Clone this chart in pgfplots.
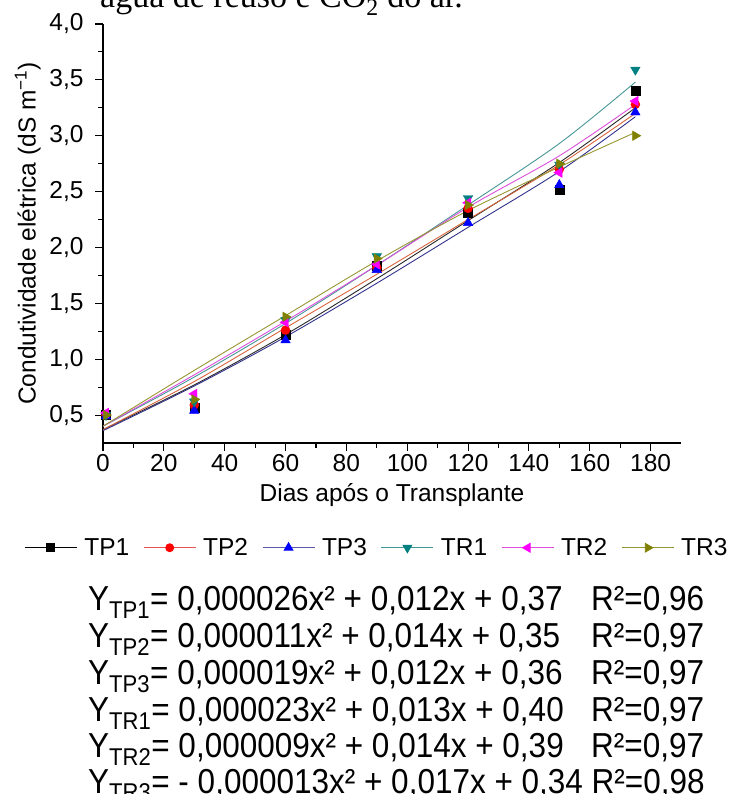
\documentclass[border=0pt]{standalone}
\usepackage{fontspec}
\setmainfont{Liberation Sans}
\newfontfamily\capfont{Liberation Serif}
\usepackage{pgfplots}
\pgfplotsset{compat=1.18}

% marker colours
\definecolor{cTPa}{RGB}{0,0,0}
\definecolor{cTPb}{RGB}{255,0,0}
\definecolor{cTPc}{RGB}{0,0,255}
\definecolor{cTRa}{RGB}{0,128,128}
\definecolor{cTRb}{RGB}{255,0,255}
\definecolor{cTRc}{RGB}{128,128,0}
% fitted-line colours (thin, a bit muted)
\definecolor{lTPa}{RGB}{40,40,40}
\definecolor{lTPb}{RGB}{215,100,60}
\definecolor{lTPc}{RGB}{50,50,140}
\definecolor{lTRa}{RGB}{70,150,150}
\definecolor{lTRb}{RGB}{220,80,220}
\definecolor{lTRc}{RGB}{150,150,50}

\newcommand{\eqtxt}[1]{\scalebox{1}[1.1]{#1}}

\begin{document}
\begin{tikzpicture}[x=1pt,y=1pt]
\useasboundingbox (0,0) rectangle (730,794);

% caption cut by the top edge
\node[anchor=base west, font=\capfont\fontsize{34}{38}\selectfont, inner sep=0pt]
  at (100,786) {água de reuso e CO\textsubscript{2} do ar.};

\begin{axis}[
  at={(103pt,351pt)}, anchor=south west,
  width=578pt, height=419pt, scale only axis,
  xmin=0, xmax=190, ymin=0.25, ymax=4.0,
  xtick={0,20,...,180}, ytick={0.5,1,1.5,2,2.5,3,3.5,4},
  minor x tick num=1, minor y tick num=1,
  axis lines=left, axis line style={-, line width=1.1pt},
  tick align=outside, major tick length=8pt, minor tick length=5pt,
  every tick/.style={black, line width=1.1pt},
  ticklabel style={font=\fontsize{24.5}{28}\selectfont},
  /pgf/number format/assume math mode=true,
  y tick label style={xshift=-8pt, /pgf/number format/.cd, fixed, fixed zerofill, precision=1, use comma},
  xlabel={Dias após o Transplante},
  ylabel={Condutividade elétrica (dS m\textsuperscript{−1})},
  label style={font=\fontsize{24.5}{28}\selectfont},
  x label style={at={(axis description cs:0.5,-0.125)}, anchor=center},
  y label style={at={(axis description cs:-0.13,0.5)}, anchor=center},
  legend columns=6,
  legend style={draw=none, fill=none, at={(axis description cs:0.474,-0.25)}, anchor=center,
    font=\fontsize{24.5}{28}\selectfont,
    /tikz/every odd column/.append style={column sep=5pt},
    /tikz/every even column/.append style={column sep=12pt}},
  legend cell align=left,
  legend image code/.code={\draw[mark repeat=2,mark phase=2,#1] plot coordinates {(0pt,0pt) (26pt,0pt) (52pt,0pt)};},
]

% fitted curves
\addplot[lTPa, line width=0.9pt, smooth, forget plot] coordinates {(0,0.37) (30,0.77) (60,1.22) (90,1.72) (120,2.24) (150,2.76) (175,3.25)};
\addplot[lTPb, line width=0.9pt, smooth, forget plot] coordinates {(0,0.37) (30,0.80) (60,1.28) (90,1.76) (120,2.25) (150,2.74) (175,3.20)};
\addplot[lTPc, line width=0.9pt, smooth, forget plot] coordinates {(0,0.36) (30,0.76) (60,1.20) (90,1.68) (120,2.18) (150,2.68) (175,3.17)};
\addplot[lTRa, line width=0.9pt, smooth, forget plot] coordinates {(0,0.40) (30,0.84) (60,1.32) (90,1.84) (120,2.38) (150,2.93) (175,3.48)};
\addplot[lTRb, line width=0.9pt, smooth, forget plot] coordinates {(0,0.40) (30,0.86) (60,1.34) (90,1.84) (120,2.36) (150,2.82) (175,3.28)};
\addplot[lTRc, line width=0.9pt, smooth, forget plot] coordinates {(0,0.40) (30,0.90) (60,1.39) (90,1.88) (120,2.33) (150,2.72) (175,3.03)};

% measured points
\addplot[only marks, mark=square*, mark size=4.5pt, cTPa, forget plot] coordinates {(1,0.50) (30,0.57) (60,1.22) (90,1.84) (120,2.31) (150,2.52) (175,3.40)};
\addplot[only marks, mark=*, mark size=4.5pt, cTPb, forget plot] coordinates {(1,0.50) (30,0.59) (60,1.26) (90,1.82) (120,2.35) (150,2.70) (175,3.28)};
\addplot[only marks, mark=triangle*, mark size=5.5pt, cTPc, forget plot] coordinates {(1,0.49) (30,0.54) (60,1.17) (90,1.80) (120,2.22) (150,2.56) (175,3.21)};
\addplot[only marks, mark=triangle*, mark size=5.5pt, mark options={rotate=180}, cTRa, forget plot] coordinates {(1,0.50) (30,0.62) (60,1.35) (90,1.92) (120,2.44) (150,2.74) (175,3.59)};
\addplot[only marks, mark=triangle*, mark size=5.5pt, mark options={rotate=90}, cTRb, forget plot] coordinates {(1,0.52) (30,0.69) (60,1.33) (90,1.85) (120,2.40) (150,2.67) (175,3.31)};
\addplot[only marks, mark=triangle*, mark size=5.5pt, mark options={rotate=-90}, cTRc, forget plot] coordinates {(1,0.50) (30,0.64) (60,1.38) (90,1.90) (120,2.38) (150,2.75) (175,3.00)};

% legend entries: line with marker
\addlegendimage{black, line width=0.9pt, mark=square*, mark size=4pt, mark options={fill=black}}
\addlegendentry{TP1}
\addlegendimage{color={rgb,255:red,230;green,80;blue,80}, line width=0.9pt, mark=*, mark size=4pt, mark options={fill=cTPb, draw=cTPb}}
\addlegendentry{TP2}
\addlegendimage{color={rgb,255:red,90;green,90;blue,170}, line width=0.9pt, mark=triangle*, mark size=5pt, mark options={fill=cTPc, draw=cTPc}}
\addlegendentry{TP3}
\addlegendimage{lTRa, line width=0.9pt, mark=triangle*, mark size=5pt, mark options={rotate=180, fill=cTRa, draw=cTRa}}
\addlegendentry{TR1}
\addlegendimage{lTRb, line width=0.9pt, mark=triangle*, mark size=5pt, mark options={rotate=90, fill=cTRb, draw=cTRb}}
\addlegendentry{TR2}
\addlegendimage{lTRc, line width=0.9pt, mark=triangle*, mark size=5pt, mark options={rotate=-90, fill=cTRc, draw=cTRc}}
\addlegendentry{TR3}
\end{axis}

% regression equations
\begin{scope}[every node/.style={anchor=base west, inner sep=0pt, font=\fontsize{31.5}{36}\selectfont}]
\node at (88,183) {\eqtxt{Y\textsubscript{TP1}= 0,000026x² + 0,012x + 0,37}};
\node at (88,146) {\eqtxt{Y\textsubscript{TP2}= 0,000011x² + 0,014x + 0,35}};
\node at (88,109) {\eqtxt{Y\textsubscript{TP3}= 0,000019x² + 0,012x + 0,36}};
\node at (88,72)  {\eqtxt{Y\textsubscript{TR1}= 0,000023x² + 0,013x + 0,40}};
\node at (88,36)  {\eqtxt{Y\textsubscript{TR2}= 0,000009x² + 0,014x + 0,39}};
\node at (88,1)   {\eqtxt{Y\textsubscript{TR3}= - 0,000013x² + 0,017x + 0,34 R²=0,98}};
\node at (591,183) {\eqtxt{R²=0,96}};
\node at (591,146) {\eqtxt{R²=0,97}};
\node at (591,109) {\eqtxt{R²=0,97}};
\node at (591,72)  {\eqtxt{R²=0,97}};
\node at (591,36)  {\eqtxt{R²=0,97}};
\end{scope}
\end{tikzpicture}
\end{document}
